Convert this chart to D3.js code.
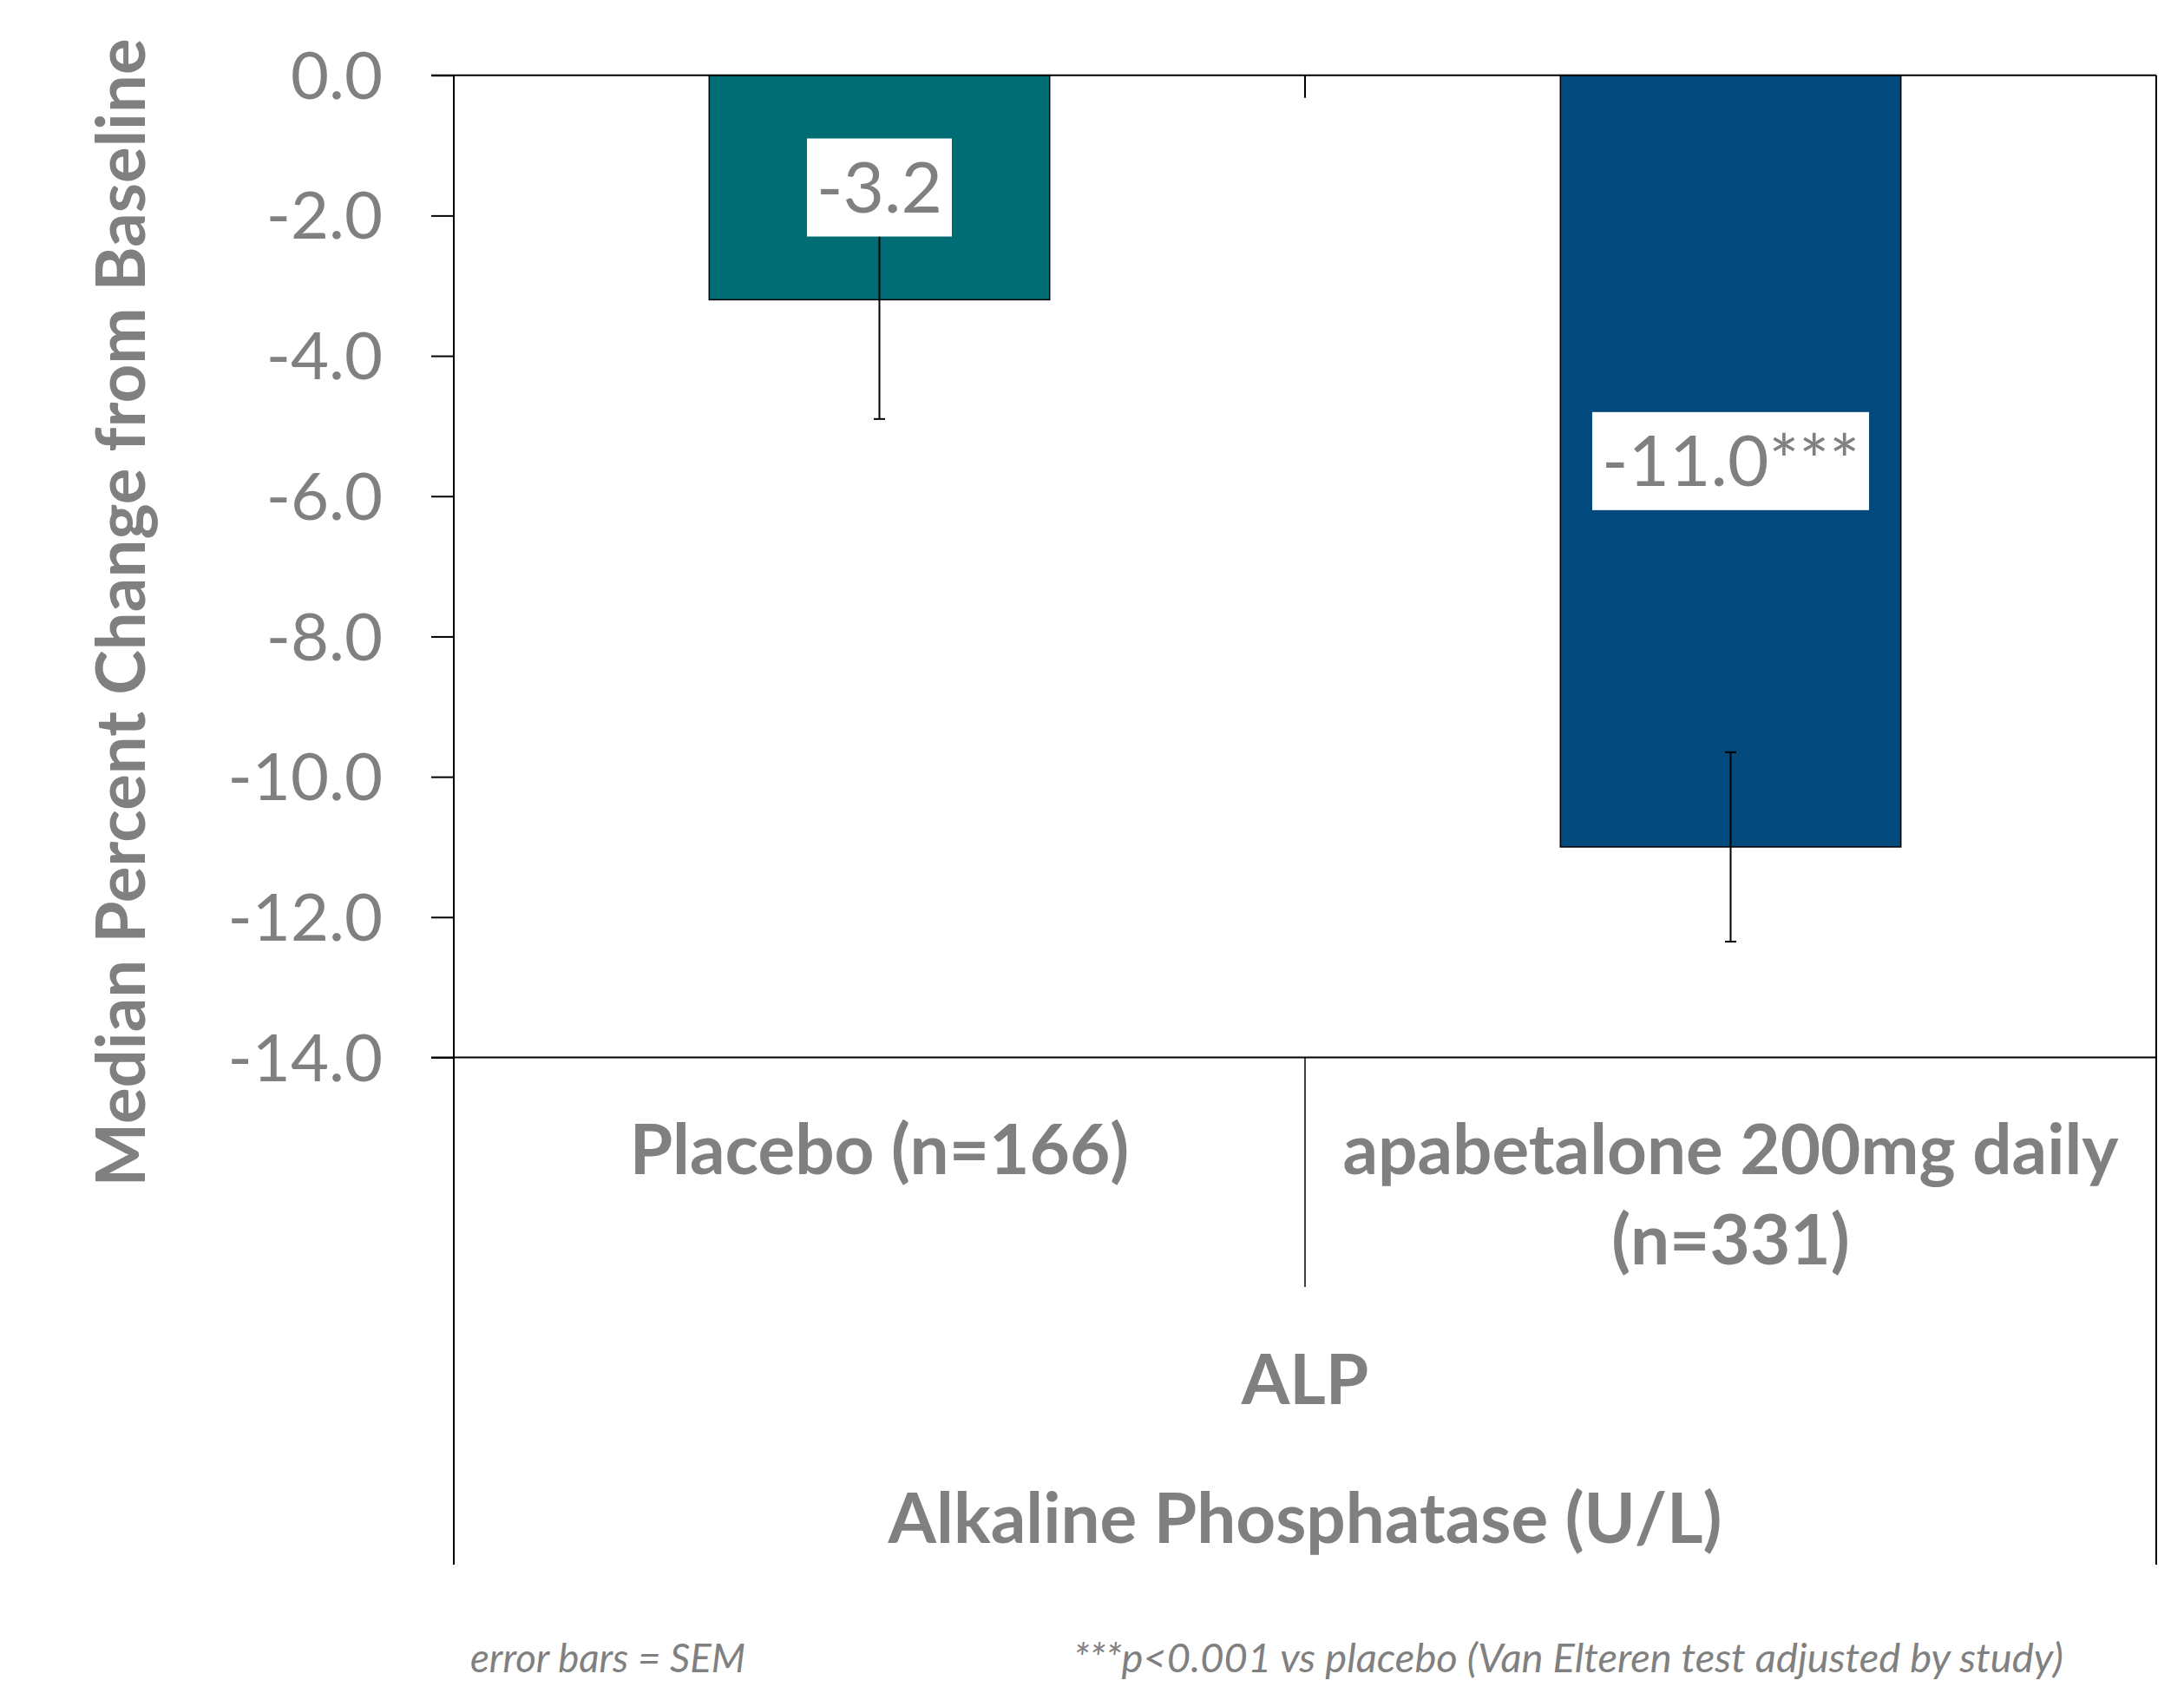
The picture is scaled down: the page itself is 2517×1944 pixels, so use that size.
<!DOCTYPE html>
<html lang="en">
<head>
    <meta charset="UTF-8">
    <title>ALP median percent change</title>
    <script src="https://d3js.org/d3.v7.min.js"></script>
    <style>
        body {margin: 0; background: #fff;}
        text {
            font-family: Lato, "Open Sans", sans-serif;
            fill: #808080;
        }
    </style>
</head>
<body>
<script>
    const width = 2517;
    const height = 1944;

    // data
    const groups    = ["placebo", "apabetalone"];
    const catLines  = [["Placebo (n=166)"], ["apabetalone 200mg daily", "(n=331)"]];
    const values    = [-3.2, -11.0];
    const sem       = [1.7, 1.35];
    const valueText = ["-3.2", "-11.0***"];
    const colors    = ["#006d75", "#02497e"];
    const yTicks    = [0, -2, -4, -6, -8, -10, -12, -14];
    const yTickText = ["0.0", "-2.0", "-4.0", "-6.0", "-8.0", "-10.0", "-12.0", "-14.0"];

    const plot = {left: 523, right: 2485, top: 86.7, bottom: 1218.5};
    const groupBottom = 1803;

    const svg = d3.select("body").append("svg")
            .attr("width", width).attr("height", height);

    const y = d3.scaleLinear().domain([-14, 0]).range([plot.bottom, plot.top]);
    const x = d3.scaleBand().domain(groups).range([plot.left, plot.right]).padding(0);
    const barW = x.bandwidth() * 0.4;

    const rows = groups.map((g, i) => ({
        key: g, value: values[i], sem: sem[i], label: valueText[i], color: colors[i], lines: catLines[i]
    }));

    // bars
    svg.selectAll("rect.bar")
            .data(rows)
            .enter()
            .append("rect")
            .attr("class", "bar")
            .attr("x", d => x(d.key) + (x.bandwidth() - barW) / 2)
            .attr("width", barW)
            .attr("y", y(0))
            .attr("height", d => y(d.value) - y(0))
            .style("fill", d => d.color)
            .style("stroke", "#000")
            .style("stroke-width", 1.5);

    // error bars
    const err = svg.selectAll("g.err")
            .data(rows)
            .enter()
            .append("g")
            .attr("class", "err")
            .attr("transform", d => `translate(${x(d.key) + x.bandwidth() / 2},0)`)
            .style("stroke", "#000")
            .style("stroke-width", 2);

    err.append("line")
            .attr("y1", d => y(d.value + d.sem))
            .attr("y2", d => y(d.value - d.sem));
    err.append("line")
            .attr("x1", -6.5).attr("x2", 6.5)
            .attr("y1", d => y(d.value + d.sem)).attr("y2", d => y(d.value + d.sem));
    err.append("line")
            .attr("x1", -6.5).attr("x2", 6.5)
            .attr("y1", d => y(d.value - d.sem)).attr("y2", d => y(d.value - d.sem));

    // value labels in white boxes, centred on each bar
    const lab = svg.selectAll("g.vlabel")
            .data(rows)
            .enter()
            .append("g")
            .attr("class", "vlabel")
            .attr("transform", d => `translate(${x(d.key) + x.bandwidth() / 2},${(y(0) + y(d.value)) / 2})`);

    const labBox = lab.append("rect").style("fill", "#fff");
    const labText = lab.append("text")
            .attr("text-anchor", "middle")
            .attr("y", 29)
            .style("font-size", "82px")
            .text(d => d.label);
    labText.each(function (d, i) {
        const w = this.getComputedTextLength();
        d3.select(labBox.nodes()[i])
                .attr("x", -w / 2 - 11).attr("width", w + 22)
                .attr("y", -56.5).attr("height", 113);
    });

    // y axis
    const yAxis = svg.append("g")
            .attr("transform", `translate(${plot.left},0)`)
            .call(d3.axisLeft(y).tickValues(yTicks)
                    .tickFormat((d, i) => yTickText[i])
                    .tickSize(26).tickSizeOuter(0).tickPadding(56));
    yAxis.select(".domain").remove();
    yAxis.selectAll(".tick line").style("stroke", "#000").style("stroke-width", 2);
    yAxis.selectAll(".tick text")
            .attr("dy", "0.35em")
            .style("font-size", "76px")
            .style("font-family", "Lato, sans-serif")
            .style("fill", "#808080");

    // frame lines
    const frame = svg.append("g").style("stroke", "#000").style("stroke-width", 2);
    frame.append("line").attr("x1", plot.left - 26).attr("x2", plot.right).attr("y1", y(0)).attr("y2", y(0));
    frame.append("line").attr("x1", plot.left - 26).attr("x2", plot.right).attr("y1", y(-14)).attr("y2", y(-14));
    frame.append("line").attr("x1", plot.left).attr("x2", plot.left).attr("y1", y(0)).attr("y2", groupBottom);
    frame.append("line").attr("x1", plot.right).attr("x2", plot.right).attr("y1", y(0)).attr("y2", groupBottom);

    const mid = x(groups[1]);
    frame.append("line").attr("x1", mid).attr("x2", mid).attr("y1", y(0)).attr("y2", y(0) + 26);
    frame.append("line").attr("x1", mid).attr("x2", mid).attr("y1", y(-14)).attr("y2", 1483)
            .style("stroke-width", 1.5);

    // category labels
    svg.selectAll("text.cat")
            .data(rows)
            .enter()
            .append("text")
            .attr("class", "cat")
            .attr("text-anchor", "middle")
            .attr("transform", d => `translate(${x(d.key) + x.bandwidth() / 2},1353)`)
            .style("font-size", "80px")
            .style("font-weight", "bold")
            .selectAll("tspan")
            .data(d => d.lines)
            .enter()
            .append("tspan")
            .attr("x", 0)
            .attr("y", (d, i) => i * 104)
            .text(d => d);

    const centre = (plot.left + plot.right) / 2;
    svg.append("text")
            .attr("x", centre).attr("y", 1618)
            .attr("text-anchor", "middle")
            .style("font-size", "80px").style("font-weight", "bold")
            .text("ALP");
    svg.append("text")
            .attr("x", centre).attr("y", 1778)
            .attr("text-anchor", "middle")
            .style("font-size", "80px").style("font-weight", "bold")
            .text("Alkaline Phosphatase (U/L)");

    // y axis title
    svg.append("text")
            .attr("transform", "translate(167,706) rotate(-90)")
            .attr("text-anchor", "middle")
            .style("font-size", "78px").style("font-weight", "bold")
            .text("Median Percent Change from Baseline");

    // footnotes
    svg.append("text")
            .attr("x", 542).attr("y", 1927)
            .attr("textLength", 317).attr("lengthAdjust", "spacingAndGlyphs")
            .style("font-size", "46px").style("font-style", "italic")
            .text("error bars = SEM");
    svg.append("text")
            .attr("x", 1237).attr("y", 1927)
            .attr("textLength", 1141).attr("lengthAdjust", "spacingAndGlyphs")
            .style("font-size", "46px").style("font-style", "italic")
            .text("***p<0.001 vs placebo (Van Elteren test adjusted by study)");
</script>
</body>
</html>
